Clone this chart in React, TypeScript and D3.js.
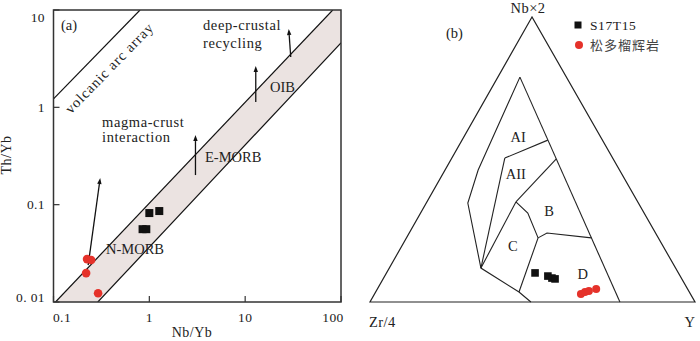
import React from 'react';
import * as d3 from 'd3';

// ---------- Panel (a) data ----------
const xTicks = [0.1, 1, 10, 100];
const xTickLabels = ['0.1', '1', '10', '100'];
const yTicks = [0.01, 0.1, 1, 10];
const yTickLabels = ['0. 01', '0.1', '1', '10'];

const s17NbYb = [1.0, 1.27, 0.85, 0.93];
const s17ThYb = [0.082, 0.086, 0.056, 0.056];
const songNbYb = [0.224, 0.247, 0.219, 0.292];
const songThYb = [0.0276, 0.027, 0.0198, 0.0123];

const morbUpper: [number, number][] = [[0.105, 0.01], [82, 10]];
const morbLower: [number, number][] = [[0.29, 0.01], [100, 4.6]];
const volcArc: [number, number][] = [[0.1, 1.22], [0.8, 10]];

const arrowFrom: [number, number][] = [[0.23, 0.0239], [3.03, 0.2015], [12.9, 1.134], [29.9, 3.29]];
const arrowTo: [number, number][] = [[0.307, 0.1876], [3.03, 0.519], [12.9, 2.66], [28.5, 6.38]];

// ---------- Panel (b) data (Nb*2, Zr/4, Y fractions) ----------
type T3 = [number, number, number];
const fieldOuterLeft: T3[] = [[0.789, 0.143, 0.068], [0.463, 0.435, 0.102], [0.347, 0.525, 0.128], [0.119, 0.599, 0.282], [0.035, 0.524, 0.441], [0, 0.505, 0.495]];
const fieldRight: T3[] = [[0.789, 0.143, 0.068], [0, 0.231, 0.769]];
const boundAI_AII: T3[] = [[0.568, 0.168, 0.264], [0.505, 0.332, 0.163]];
const boundAII_left: T3[] = [[0.505, 0.332, 0.163], [0.119, 0.599, 0.282]];
const boundAII_B: T3[] = [[0.502, 0.175, 0.323], [0.351, 0.375, 0.274]];
const boundC_left: T3[] = [[0.351, 0.375, 0.274], [0.119, 0.599, 0.282]];
const boundB_C: T3[] = [[0.351, 0.375, 0.274], [0.312, 0.358, 0.330], [0.225, 0.370, 0.405]];
const boundB_D: T3[] = [[0.225, 0.370, 0.405], [0.242, 0.334, 0.424], [0.225, 0.206, 0.569]];
const boundC_D: T3[] = [[0.225, 0.370, 0.405], [0.035, 0.524, 0.441]];
const fieldLines = [fieldOuterLeft, fieldRight, boundAI_AII, boundAII_left, boundAII_B, boundC_left, boundB_C, boundB_D, boundC_D];

const fieldNames = ['AI', 'AII', 'B', 'C', 'D'];
const fieldLabelPos: T3[] = [[0.579, 0.254, 0.167], [0.449, 0.326, 0.225], [0.319, 0.289, 0.392], [0.196, 0.462, 0.342], [0.098, 0.296, 0.606]];

const s17Tern: T3[] = [[0.102, 0.441, 0.457], [0.091, 0.407, 0.502], [0.084, 0.398, 0.518], [0.081, 0.390, 0.529]];
const songTern: T3[] = [[0.028, 0.337, 0.635], [0.035, 0.321, 0.644], [0.039, 0.307, 0.654], [0.046, 0.281, 0.673]];

const legendNames = ['S17T15', '松多榴辉岩'];

const SERIF = '"Liberation Serif", "Times New Roman", serif';
const RED = '#e5322a';
const FILL = '#ebe3e1';

export default function App() {
  // panel (a)
  const x = d3.scaleLog().domain([0.1, 100]).range([53.5, 341]);
  const y = d3.scaleLog().domain([0.01, 10]).range([302, 10]);
  const L = 53.5, R = 341, Tp = 10, B = 302;

  const line = d3.line<[number, number]>().x(d => x(d[0])).y(d => y(d[1]));
  const band: [number, number][] = [morbUpper[0], morbUpper[1], [100, 10], morbLower[1], morbLower[0]];

  // panel (b) ternary projection
  const vT = [532, 17], vL = [370, 302], vR = [695, 302];
  const tern = (p: T3): [number, number] => {
    const s = p[0] + p[1] + p[2];
    const a = p[0] / s, b = p[1] / s, c = p[2] / s;
    return [a * vT[0] + b * vL[0] + c * vR[0], a * vT[1] + b * vL[1] + c * vR[1]];
  };
  const tline = d3.line<T3>().x(d => tern(d)[0]).y(d => tern(d)[1]);

  const arrowEls = arrowFrom.map((f, i) => {
    const x1 = x(f[0]), y1 = y(f[1]);
    const x2 = x(arrowTo[i][0]), y2 = y(arrowTo[i][1]);
    const dx = x2 - x1, dy = y2 - y1;
    const len = Math.hypot(dx, dy);
    const ux = dx / len, uy = dy / len;
    const hl = 6, hw = 2.2;
    const bx = x2 - ux * hl, by = y2 - uy * hl;
    const head = `M${x2},${y2} L${bx - uy * hw},${by + ux * hw} L${bx + uy * hw},${by - ux * hw} Z`;
    return (
      <g key={i}>
        <line x1={x1} y1={y1} x2={bx} y2={by} stroke="#111" strokeWidth={1.3} />
        <path d={head} fill="#111" />
      </g>
    );
  });

  const arcP1 = [x(volcArc[0][0]), y(volcArc[0][1])];
  const arcP2 = [x(volcArc[1][0]), y(volcArc[1][1])];
  const arcAngle = Math.atan2(arcP2[1] - arcP1[1], arcP2[0] - arcP1[0]) * 180 / Math.PI;

  return (
    <svg width={700} height={341} style={{ position: 'absolute', left: 0, top: 0, background: '#fff' }}
      fontFamily={SERIF} fill="#222">
      <rect x={0} y={0} width={700} height={341} fill="#fff" />
      {/* ---------- Panel (a) ---------- */}
      <defs>
        <clipPath id="clipA"><rect x={L} y={Tp} width={R - L} height={B - Tp} /></clipPath>
      </defs>
      <g clipPath="url(#clipA)">
        <path d={line(band) + 'Z'} fill={FILL} stroke="none" />
        <path d={line(morbUpper) ?? ''} fill="none" stroke="#111" strokeWidth={1.2} />
        <path d={line(morbLower) ?? ''} fill="none" stroke="#111" strokeWidth={1.2} />
        <path d={line(volcArc) ?? ''} fill="none" stroke="#111" strokeWidth={1.2} />
      </g>
      {arrowEls}
      {/* points */}
      {s17NbYb.map((v, i) => (
        <rect key={'sa' + i} x={x(v) - 4} y={y(s17ThYb[i]) - 4} width={8} height={8} fill="#111" />
      ))}
      {songNbYb.map((v, i) => (
        <circle key={'ca' + i} cx={x(v)} cy={y(songThYb[i])} r={4.3} fill={RED} />
      ))}
      {/* frame */}
      <rect x={L} y={Tp} width={R - L} height={B - Tp} fill="none" stroke="#333" strokeWidth={1.5} />
      {/* ticks */}
      {xTicks.map((t, i) => (
        <g key={'xt' + i}>
          <line x1={x(t)} x2={x(t)} y1={B} y2={B - 6} stroke="#333" strokeWidth={1.2} />
          <text x={Math.min(Math.max(x(t), 62), 333)} y={322} textAnchor="middle" fontSize={13.5} letterSpacing={0.4}>{xTickLabels[i]}</text>
        </g>
      ))}
      {yTicks.map((t, i) => (
        <g key={'yt' + i}>
          <line x1={L} x2={L + 6} y1={y(t)} y2={y(t)} stroke="#333" strokeWidth={1.2} />
          <text x={45} y={Math.min(Math.max(y(t), 17), 297) + 4.5} textAnchor="end" fontSize={13.5} letterSpacing={0.4}>{yTickLabels[i]}</text>
        </g>
      ))}
      <text x={192} y={336.5} textAnchor="middle" fontSize={14} letterSpacing={0.5}>Nb/Yb</text>
      <text transform="translate(11,155) rotate(-90)" textAnchor="middle" fontSize={14} letterSpacing={0.5}>Th/Yb</text>

      {/* annotations */}
      <text x={61} y={30} fontSize={14.5}>(a)</text>
      <text transform={`translate(${(arcP1[0] + arcP2[0]) / 2 + 16},${(arcP1[1] + arcP2[1]) / 2 + 17}) rotate(${arcAngle})`}
        textAnchor="middle" fontSize={14.5} letterSpacing={0.9}>volcanic arc array</text>
      <text x={203} y={30} fontSize={14.5} letterSpacing={0.6}>deep-crustal</text>
      <text x={203} y={48} fontSize={14.5} letterSpacing={0.6}>recycling</text>
      <text x={270} y={92} fontSize={14.5}>OIB</text>
      <text x={102} y={127} fontSize={14.5} letterSpacing={0.6}>magma-crust</text>
      <text x={102} y={142} fontSize={14.5} letterSpacing={0.6}>interaction</text>
      <text x={205} y={162} fontSize={14.5}>E-MORB</text>
      <text x={106} y={254} fontSize={14.5}>N-MORB</text>

      {/* ---------- Panel (b) ---------- */}
      <path d={`M${vT[0]},${vT[1]} L${vL[0]},${vL[1]} L${vR[0]},${vR[1]} Z`} fill="none" stroke="#222" strokeWidth={1.2} />
      {fieldLines.map((fl, i) => (
        <path key={'fl' + i} d={tline(fl) ?? ''} fill="none" stroke="#222" strokeWidth={1.1} />
      ))}
      {fieldNames.map((n, i) => {
        const p = tern(fieldLabelPos[i]);
        return <text key={'fn' + i} x={p[0]} y={p[1] + 5} textAnchor="middle" fontSize={14.5}>{n}</text>;
      })}
      {s17Tern.map((p, i) => {
        const q = tern(p);
        return <rect key={'sb' + i} x={q[0] - 3.8} y={q[1] - 3.8} width={7.6} height={7.6} fill="#111" />;
      })}
      {songTern.map((p, i) => {
        const q = tern(p);
        return <circle key={'cb' + i} cx={q[0]} cy={q[1]} r={4} fill={RED} />;
      })}
      <text x={vT[0] - 4} y={13} textAnchor="middle" fontSize={14.5} letterSpacing={0.5}>Nb×2</text>
      <text x={369} y={327} fontSize={14.5} letterSpacing={0.4}>Zr/4</text>
      <text x={695} y={327} textAnchor="end" fontSize={14.5}>Y</text>
      <text x={446} y={38} fontSize={14.5}>(b)</text>

      {/* legend */}
      <rect x={574.5} y={21.5} width={7} height={7} fill="#111" />
      <text x={590} y={30} fontSize={13.5} letterSpacing={0.6}>{legendNames[0]}</text>
      <circle cx={579} cy={45} r={4} fill={RED} />
      <text x={590} y={50} fontSize={13} letterSpacing={1} fontFamily='"Noto Sans CJK SC", sans-serif' fill="#444">{legendNames[1]}</text>
    </svg>
  );
}
